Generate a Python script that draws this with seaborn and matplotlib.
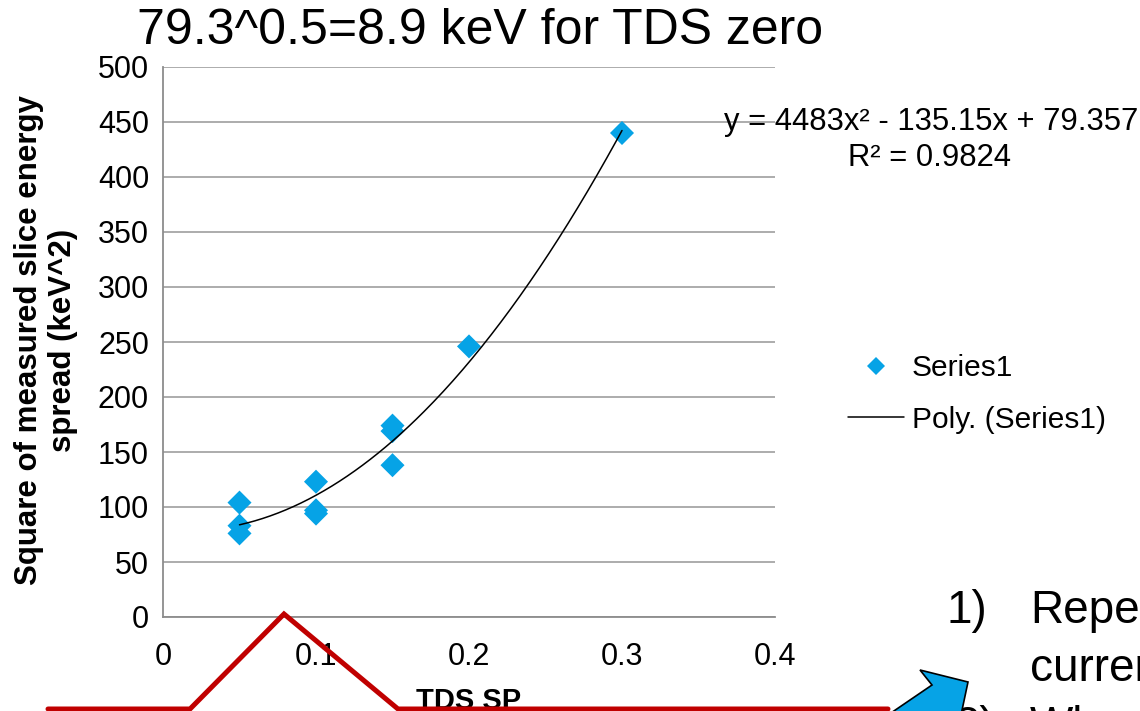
import numpy as np
import pandas as pd
import seaborn as sns
import matplotlib
matplotlib.use("Agg")
import matplotlib.pyplot as plt
from matplotlib.lines import Line2D
from matplotlib.patches import Polygon

# ---- data -------------------------------------------------------------
tds_sp = [0.05, 0.05, 0.05, 0.10, 0.10, 0.10, 0.15, 0.15, 0.15, 0.20, 0.30]
spread_sq = [104, 83, 76, 123, 97, 94, 174, 169, 138, 246, 440]

# quadratic trend (coefficients as printed on the chart)
fit_a, fit_b, fit_c = 4483.0, -135.15, 79.357
fit_r2 = 0.9824

x_ticks = [0, 0.1, 0.2, 0.3, 0.4]
x_ticklabels = ["0", "0.1", "0.2", "0.3", "0.4"]
y_ticks = list(range(0, 501, 50))

title = "79.3^0.5=8.9 keV for TDS zero"
x_label = "TDS SP"
y_label = "Square of measured slice energy\nspread (keV^2)"
legend_labels = ["Series1", "Poly. (Series1)"]
side_lines = ["1)", "Repeat", "current", "2)", "When"]

# ---- style ------------------------------------------------------------
sns.set_style("white")
plt.rcParams["font.family"] = ["Liberation Sans", "DejaVu Sans"]
plt.rcParams["text.color"] = "black"
plt.rcParams["axes.labelcolor"] = "black"

W, H = 1140, 711
fig = plt.figure(figsize=(W / 100, H / 100), dpi=100)
ax = fig.add_axes([163 / W, 1 - 617 / H, (775 - 163) / W, (617 - 67) / H])

blue = "#06A3E6"
grid_grey = "#A6A6A6"
axis_grey = "#8C8C8C"

df = pd.DataFrame({"tds": tds_sp, "spread": spread_sq})
sns.scatterplot(data=df, x="tds", y="spread", marker="D", s=150, color=blue,
                edgecolor="none", linewidth=0, ax=ax, zorder=3, legend=False)

xs = np.linspace(min(tds_sp), max(tds_sp), 200)
trend = pd.DataFrame({"tds": xs, "spread": fit_a * xs ** 2 + fit_b * xs + fit_c})
sns.lineplot(data=trend, x="tds", y="spread", color="black", linewidth=1.1,
             ax=ax, zorder=4)

ax.set_xlim(0, 0.4)
ax.set_ylim(0, 500)
ax.set_xticks(x_ticks)
ax.set_xticklabels(x_ticklabels)
ax.set_yticks(y_ticks)

ax.yaxis.grid(True, color=grid_grey, linewidth=1.3)
ax.xaxis.grid(False)
for side in ("top", "right"):
    ax.spines[side].set_visible(False)
for side in ("left", "bottom"):
    ax.spines[side].set_color(axis_grey)
    ax.spines[side].set_linewidth(1.3)
ax.tick_params(axis="both", direction="out", length=7, width=1.2,
               color=axis_grey, labelsize=22, labelcolor="black")
ax.tick_params(axis="y", pad=3)
ax.tick_params(axis="x", pad=11)
ax.set_axisbelow(True)

ax.set_xlabel(x_label, fontsize=21, fontweight="bold", labelpad=11)
ax.set_ylabel(y_label, fontsize=22.5, fontweight="bold", va="center",
              linespacing=1.15)
ax.yaxis.set_label_coords((46 - 163) / 612, (617 - 340) / 550)

# title
fig.text(480 / W, 1 - 31 / H, title, fontsize=36, ha="center", va="center")

# trendline equation
fig.text(931 / W, 1 - 122 / H, "y = 4483x² - 135.15x + 79.357",
         fontsize=22.3, ha="center", va="center")
fig.text(930 / W, 1 - 158 / H, f"R² = {fit_r2}", fontsize=22.3,
         ha="center", va="center")

# legend
handles = [
    Line2D([], [], marker="D", linestyle="none", color=blue, markersize=9,
           markeredgewidth=0),
    Line2D([], [], color="black", linewidth=1.1),
]
fig.legend(handles, legend_labels, loc="center left",
           bbox_to_anchor=(848 / W, 1 - 394 / H), frameon=False,
           fontsize=21.5, handlelength=1.86, handletextpad=0.28,
           labelspacing=0.78, borderpad=0, borderaxespad=0)

# slide body text at right
fig.text(947 / W, 1 - 623 / H, side_lines[0], fontsize=33, va="baseline")
fig.text(1030 / W, 1 - 623 / H, side_lines[1], fontsize=33, va="baseline")
fig.text(1030 / W, 1 - 681 / H, side_lines[2], fontsize=33, va="baseline")
fig.text(955 / W, 1 - 739 / H, side_lines[3], fontsize=33, va="baseline")
fig.text(1030 / W, 1 - 739 / H, side_lines[4], fontsize=33, va="baseline")

# slide decoration: red callout outline
red_px = [(48, 709), (190, 709), (284, 614), (398, 709), (888, 709)]
fig.add_artist(Line2D([p[0] / W for p in red_px], [1 - p[1] / H for p in red_px],
                      color="#C00000", linewidth=3.6, solid_joinstyle="miter",
                      transform=fig.transFigure, zorder=10))

# slide decoration: blue arrow drawn over the body text
arrow_px = [(920, 670), (968, 682), (961, 715), (888, 715), (932, 685)]
fig.add_artist(Polygon([(p[0] / W, 1 - p[1] / H) for p in arrow_px],
                       closed=True, facecolor=blue, edgecolor="black",
                       linewidth=1.2, transform=fig.transFigure, zorder=10))

fig.savefig("out.png", dpi=100)
